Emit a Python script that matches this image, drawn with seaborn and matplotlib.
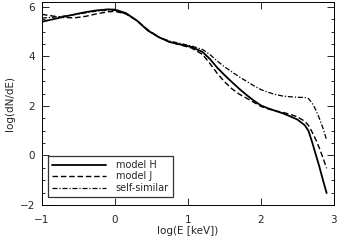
import numpy as np
import pandas as pd
import seaborn as sns
import matplotlib
matplotlib.use("Agg")
import matplotlib.pyplot as plt
from matplotlib.ticker import MultipleLocator

# data
log_e = [-1.0, -0.85, -0.7, -0.55, -0.4, -0.25, -0.1, 0.0, 0.15, 0.3, 0.45, 0.6,
         0.75, 0.9, 1.05, 1.2, 1.3, 1.4, 1.5, 1.6, 1.7, 1.8, 1.9, 2.0, 2.1, 2.2,
         2.3, 2.4, 2.5, 2.6, 2.65, 2.7, 2.75, 2.8, 2.85, 2.9]
model_h = [5.40, 5.50, 5.60, 5.70, 5.79, 5.86, 5.90, 5.89, 5.75, 5.45, 5.05, 4.78,
           4.58, 4.48, 4.38, 4.18, 3.90, 3.55, 3.25, 2.97, 2.70, 2.45, 2.22, 2.02, 1.90, 1.80,
           1.70, 1.58, 1.45, 1.22, 1.00, 0.55, 0.05, -0.45, -1.00, -1.52]
model_j = [5.70, 5.63, 5.57, 5.56, 5.62, 5.72, 5.80, 5.82, 5.72, 5.45, 5.08, 4.78,
           4.58, 4.46, 4.34, 4.08, 3.72, 3.32, 2.98, 2.70, 2.48, 2.32, 2.15, 1.98, 1.88, 1.80,
           1.74, 1.66, 1.56, 1.38, 1.22, 0.95, 0.65, 0.30, -0.10, -0.52]
self_sim = [5.55, 5.58, 5.63, 5.69, 5.76, 5.83, 5.87, 5.86, 5.72, 5.45, 5.05, 4.78,
            4.62, 4.52, 4.42, 4.28, 4.08, 3.82, 3.58, 3.38, 3.18, 3.00, 2.82, 2.66, 2.55, 2.46,
            2.40, 2.37, 2.35, 2.34, 2.30, 2.12, 1.85, 1.50, 1.10, 0.62]

series = {"model H": model_h, "model J": model_j, "self-similar": self_sim}
df = pd.concat([pd.DataFrame({"logE": log_e, "logN": v, "model": k})
                for k, v in series.items()], ignore_index=True)

sns.set_style("ticks")
plt.rcParams['font.family'] = ['DejaVu Sans']
fig = plt.figure(figsize=(3.38, 2.44), dpi=100)
ax = fig.add_axes([0.124, 0.16, 0.864, 0.832])

styles = {"model H": ((), 1.3), "model J": ((4, 2), 1.0), "self-similar": ((4, 1.5, 1, 1.5), 0.9)}
for name, (dash, lw) in styles.items():
    sub = df[df["model"] == name]
    sns.lineplot(data=sub, x="logE", y="logN", ax=ax, color="black", lw=lw,
                 label=name, dashes=False, legend=False)
    line = ax.lines[-1]
    if dash:
        line.set_dashes(dash)
    else:
        line.set_linestyle("-")

ax.set_xlim(-1, 3)
ax.set_ylim(-2, 6.2)
ax.xaxis.set_major_locator(MultipleLocator(1))
ax.yaxis.set_major_locator(MultipleLocator(2))
ax.yaxis.set_minor_locator(MultipleLocator(0.5))
ax.tick_params(which="both", direction="in", top=True, right=True, labelsize=7.5,
               color="black", width=0.6)
ax.tick_params(which="major", length=5)
ax.tick_params(which="minor", length=2.5)
ax.tick_params(axis="x", pad=7)
ax.tick_params(axis="y", pad=5)
for s in ax.spines.values():
    s.set_linewidth(0.7)
    s.set_color("black")
ax.set_xlabel("log(E [keV])", fontsize=7.5, labelpad=1)
ax.set_ylabel("log(dN/dE)", fontsize=7.5, labelpad=3)

leg = ax.legend(loc="lower left", fontsize=7, frameon=True, fancybox=False,
                edgecolor="black", handlelength=5.6, handletextpad=1.0,
                borderpad=0.4, labelspacing=0.15, borderaxespad=0,
                bbox_to_anchor=(0.02, 0.04))
leg.get_frame().set_linewidth(0.9)

fig.savefig("out.png", dpi=100)
